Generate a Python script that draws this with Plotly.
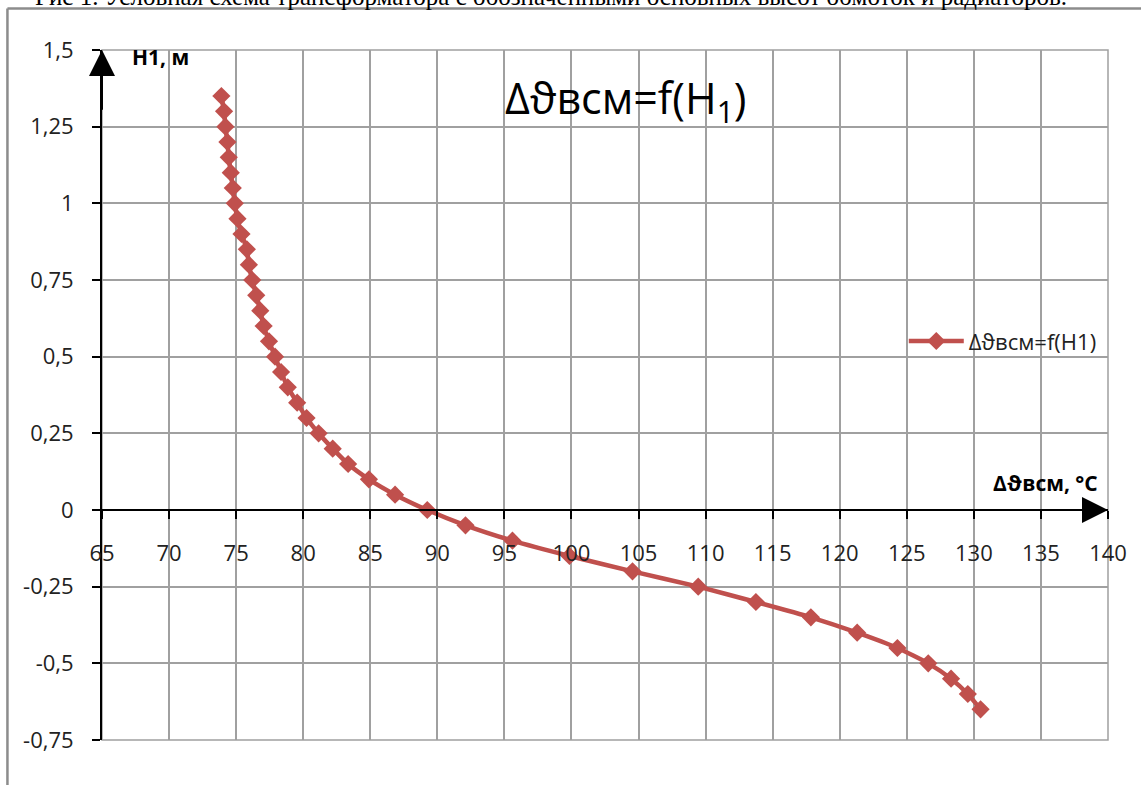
import plotly.graph_objects as go

# Height of the measurement point above the reference level, m
h1 = [1.35, 1.30, 1.25, 1.20, 1.15, 1.10, 1.05, 1.00, 0.95, 0.90,
      0.85, 0.80, 0.75, 0.70, 0.65, 0.60, 0.55, 0.50, 0.45, 0.40,
      0.35, 0.30, 0.25, 0.20, 0.15, 0.10, 0.05, 0.00, -0.05, -0.10,
      -0.15, -0.20, -0.25, -0.30, -0.35, -0.40, -0.45, -0.50, -0.55, -0.60,
      -0.65]
# Oil temperature rise at that height, °C
d_theta = [73.9, 74.1, 74.2, 74.35, 74.45, 74.6, 74.75, 74.9, 75.1, 75.4,
           75.8, 75.95, 76.2, 76.5, 76.8, 77.05, 77.45, 77.9, 78.35, 78.85,
           79.55, 80.25, 81.15, 82.2, 83.35, 84.9, 86.85, 89.25, 92.1, 95.6,
           99.85, 104.55, 109.45, 113.75, 117.85, 121.3, 124.3, 126.6, 128.3, 129.55,
           130.5]

x_ticks = list(range(65, 141, 5))
y_ticks = [1.5, 1.25, 1.0, 0.75, 0.5, 0.25, 0.0, -0.25, -0.5, -0.75]
y_tick_text = ["1,5", "1,25", "1", "0,75", "0,5", "0,25", "0", "-0,25", "-0,5", "-0,75"]

X_RANGE = [65, 140]
Y_RANGE = [-0.75, 1.5]

RED = "#C0504D"
GRID = "#a0a0a0"
FONT = "Open Sans, Noto Sans, sans-serif"

fig = go.Figure()

fig.add_trace(go.Scatter(
    x=d_theta, y=h1,
    mode="lines+markers",
    name="Δϑвсм=f(H1)",
    line=dict(color=RED, width=4.5, shape="spline", smoothing=0.5),
    marker=dict(symbol="diamond", size=14, color=RED),
))

# x axis crosses the y axis at H1 = 0
x_axis_pos = (0 - Y_RANGE[0]) / (Y_RANGE[1] - Y_RANGE[0])

fig.update_layout(
    width=1141, height=785,
    margin=dict(l=102, r=33, t=50, b=45),
    paper_bgcolor="white", plot_bgcolor="white",
    font=dict(family=FONT, size=22, color="#222222"),
    showlegend=True,
    legend=dict(
        x=0.797, y=0.578, xanchor="left", yanchor="middle",
        bgcolor="rgba(0,0,0,0)", itemwidth=55,
        font=dict(family=FONT, size=22, color="#222222"),
    ),
    xaxis=dict(
        range=X_RANGE, tickvals=x_ticks, ticktext=[str(v) for v in x_ticks],
        showgrid=True, gridcolor=GRID, gridwidth=1.5,
        zeroline=False,
        showline=True, linecolor="black", linewidth=2,
        ticks="outside", ticklen=8, tickwidth=1.5, tickcolor="black",
        anchor="free", position=x_axis_pos,
        ticklabelstandoff=16,
        tickfont=dict(size=22),
    ),
    yaxis=dict(
        range=Y_RANGE, tickvals=y_ticks, ticktext=y_tick_text,
        showgrid=True, gridcolor=GRID, gridwidth=1.5,
        zeroline=False,
        showline=True, linecolor="black", linewidth=2,
        ticks="outside", ticklen=8, tickwidth=1.5, tickcolor="black",
        ticklabelstandoff=14,
        tickfont=dict(size=22),
    ),
)

# plot-area frame and outer chart border
fig.add_shape(type="rect", xref="paper", yref="paper", x0=0, y0=0, x1=1, y1=1,
              line=dict(color=GRID, width=1.5), layer="below")
fig.add_shape(type="line", xref="paper", yref="paper", x0=-0.094, y0=1.06, x1=1.04, y1=1.06,
              line=dict(color="#8c8c8c", width=2.5))
fig.add_shape(type="line", xref="paper", yref="paper", x0=-0.094, y0=1.06, x1=-0.094, y1=-0.07,
              line=dict(color="#8c8c8c", width=2.5))

# axis arrows
fig.add_annotation(x=65, y=1.5, ax=65, ay=1.3, xref="x", yref="y", axref="x", ayref="y",
                   text="", showarrow=True, arrowhead=2, arrowsize=2.6, arrowwidth=2,
                   arrowcolor="black")
fig.add_annotation(x=140, y=0, ax=135, ay=0, xref="x", yref="y", axref="x", ayref="y",
                   text="", showarrow=True, arrowhead=2, arrowsize=2.6, arrowwidth=2,
                   arrowcolor="black")

# axis captions
fig.add_annotation(x=0.028, y=0.99, xref="paper", yref="paper", xanchor="left", yanchor="middle",
                   text="<b>H1, м</b>", showarrow=False,
                   font=dict(family=FONT, size=21, color="black"))
fig.add_annotation(x=0.884, y=0.373, xref="paper", yref="paper", xanchor="left", yanchor="middle",
                   text="<b>Δϑвсм, °C</b>", showarrow=False,
                   font=dict(family=FONT, size=21, color="black"))

# chart title
fig.add_annotation(x=0.521, y=0.928, xref="paper", yref="paper", xanchor="center", yanchor="middle",
                   text="Δϑвсм=f(H<sub>1</sub>)", showarrow=False,
                   font=dict(family=FONT, size=43, color="black"))

# caption line of the page above the chart
fig.add_annotation(x=0.446, y=1.055, xref="paper", yref="paper", xanchor="center", yanchor="bottom",
                   text="Рис 1. Условная схема трансформатора с обозначенными основных высот обмоток и радиаторов.",
                   showarrow=False,
                   font=dict(family="Liberation Serif, serif", size=25, color="black"))

fig.write_html("out.html")
